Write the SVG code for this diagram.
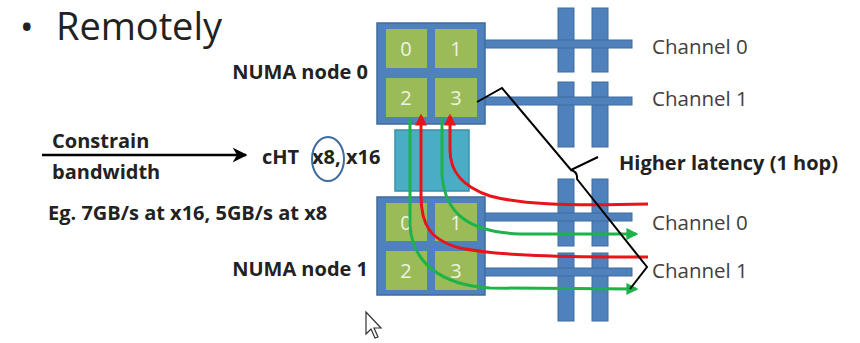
<svg xmlns="http://www.w3.org/2000/svg" width="860" height="343" viewBox="0 0 860 343">
<style>
.box{fill:#4f81bd;stroke:#3f6c9f;stroke-width:1.5}
.cell{fill:#9bbb59}
.num{font-family:"Open Sans","Liberation Sans",sans-serif;font-size:20px;fill:#eef3e0;text-anchor:middle}
.bar{fill:#4f81bd;stroke:#3f6c9f;stroke-width:1}
.lbl{font-family:"Open Sans","Liberation Sans",sans-serif;font-size:20.5px;fill:#404040}
.b{font-family:"Open Sans","Liberation Sans",sans-serif;font-size:20px;font-weight:bold;fill:#222}
.red{fill:none;stroke:#e8141a;stroke-width:3}
.grn{fill:none;stroke:#1db34a;stroke-width:3}
</style>
<defs>
<marker id="ar" viewBox="0 0 10 10" refX="8" refY="5" markerWidth="4" markerHeight="4" orient="auto"><path d="M0,0L10,5L0,10z" fill="#e8141a"/></marker>
<marker id="ag" viewBox="0 0 10 10" refX="8" refY="5" markerWidth="4" markerHeight="4" orient="auto"><path d="M0,0L10,5L0,10z" fill="#1db34a"/></marker>
<marker id="ak" viewBox="0 0 10 10" refX="9" refY="5" markerWidth="6" markerHeight="6" orient="auto"><path d="M0,0L10,5L0,10L3,5z" fill="#000"/></marker>
</defs>
<rect width="860" height="343" fill="#fff"/>
<text x="20" y="40" font-family="Open Sans,Liberation Sans,sans-serif" font-size="36" fill="#222">•</text>
<text x="56" y="40" font-family="Open Sans,Liberation Sans,sans-serif" font-size="38" fill="#222" textLength="166">Remotely</text>
<g id="channels-top">
<rect class="bar" x="558" y="8" width="16" height="64"/>
<rect class="bar" x="592" y="8" width="16" height="64"/>
<rect class="bar" x="558" y="82" width="16" height="65"/>
<rect class="bar" x="592" y="82" width="16" height="65"/>
<rect class="bar" x="484" y="40" width="148" height="8"/>
<rect class="bar" x="484" y="97" width="148" height="8"/>
<text class="lbl" x="652" y="54">Channel 0</text>
<text class="lbl" x="652" y="106">Channel 1</text>
</g>
<g id="channels-bottom">
<rect class="bar" x="558" y="179" width="16" height="67"/>
<rect class="bar" x="592" y="179" width="16" height="67"/>
<rect class="bar" x="558" y="253" width="16" height="68"/>
<rect class="bar" x="592" y="253" width="16" height="68"/>
<rect class="bar" x="484" y="213" width="148" height="8"/>
<rect class="bar" x="484" y="268" width="148" height="8"/>
<text class="lbl" x="652" y="230">Channel 0</text>
<text class="lbl" x="652" y="278">Channel 1</text>
</g>
<g id="numa0">
<rect class="box" x="377" y="23" width="108" height="101"/>
<rect class="cell" x="386" y="29" width="41" height="39"/>
<rect class="cell" x="435" y="29" width="42" height="39"/>
<rect class="cell" x="386" y="78" width="41" height="39"/>
<rect class="cell" x="435" y="78" width="42" height="39"/>
<text class="num" x="406" y="56">0</text>
<text class="num" x="456" y="56">1</text>
<text class="num" x="406" y="105">2</text>
<text class="num" x="456" y="105">3</text>
<text class="b" x="368" y="79" text-anchor="end">NUMA node 0</text>
</g>
<g id="cht">
<rect x="395" y="130" width="74" height="61" fill="#4bacc6" stroke="#3b8fab" stroke-width="1.5"/>
<text class="b" x="262" y="164">cHT <tspan x="312">x8,</tspan> <tspan x="346">x16</tspan></text>
<ellipse cx="328" cy="159" rx="16" ry="22" fill="none" stroke="#3f6c9f" stroke-width="2"/>
</g>
<g id="numa1">
<rect class="box" x="377" y="197" width="108" height="98"/>
<rect class="cell" x="386" y="203" width="41" height="38"/>
<rect class="cell" x="435" y="203" width="42" height="38"/>
<rect class="cell" x="386" y="251" width="41" height="39"/>
<rect class="cell" x="435" y="251" width="42" height="39"/>
<text class="num" x="406" y="230">0</text>
<text class="num" x="456" y="230">1</text>
<text class="num" x="406" y="278">2</text>
<text class="num" x="456" y="278">3</text>
<text class="b" x="368" y="276" text-anchor="end">NUMA node 1</text>
</g>
<g id="left-text">
<text class="b" x="52" y="148">Constrain</text>
<text class="b" x="52" y="179">bandwidth</text>
<text class="b" x="48" y="220" font-size="19">Eg. 7GB/s at x16, 5GB/s at x8</text>
<text class="b" x="619" y="170">Higher latency (1 hop)</text>
</g>
<g id="connectors">
<line x1="42" y1="155" x2="246" y2="155" stroke="#000" stroke-width="2.5" marker-end="url(#ak)"/>
<path class="red" d="M648,257 C560,257 500,256 460,248 C430,240 421,225 421,195 L421,116" marker-end="url(#ar)"/>
<path class="red" d="M648,204 C560,206 520,204 490,196 C460,186 450,170 450,150 L450,116" marker-end="url(#ar)"/>
<path class="grn" d="M410,118 L410,225 C412,262 440,285 490,288 L636,289" marker-end="url(#ag)"/>
<path class="grn" d="M442,118 L442,175 C445,215 470,232 520,234 L636,234" marker-end="url(#ag)"/>
<path d="M477,102 L502,88 L571,170 L598,157 M571,170 Q578,172 577,179 L647,267 L630,289" fill="none" stroke="#000" stroke-width="2"/>
</g>
<g id="cursor">
<path d="M366,312 L366,334 L371,329 L375,338 L378,337 L374,328 L381,328 Z" fill="#fff" stroke="#333" stroke-width="1.2"/>
</g>
</svg>
